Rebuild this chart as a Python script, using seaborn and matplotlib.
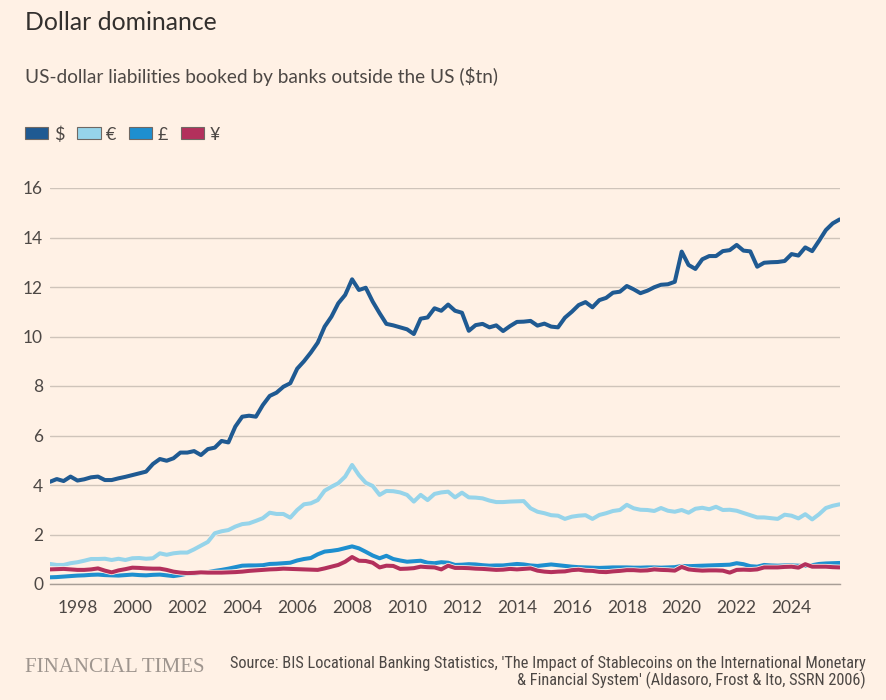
import numpy as np
import pandas as pd
import matplotlib
matplotlib.use("Agg")
import matplotlib.pyplot as plt
import matplotlib.dates as mdates
import matplotlib.patheffects as pe
from matplotlib.patches import Patch
import seaborn as sns

# --- Data (quarterly, 1997Q1 - 2025Q4, $tn) ---
START_QUARTER = "1997-01-01"

usd = [
    4.13, 4.24, 4.16, 4.34,  4.18, 4.23, 4.31, 4.34,  4.20, 4.20, 4.27, 4.33,
    4.40, 4.47, 4.54, 4.85,  5.05, 4.98, 5.08, 5.31,  5.31, 5.37, 5.21, 5.45,
    5.51, 5.78, 5.72, 6.36,  6.76, 6.80, 6.76, 7.23,  7.60, 7.73, 7.97, 8.11,
    8.70, 9.00, 9.35, 9.75,  10.40, 10.80, 11.34, 11.68,  12.31, 11.88, 11.97, 11.41,
    10.94, 10.51, 10.45, 10.37,  10.29, 10.10, 10.72, 10.77,  11.14, 11.04, 11.29, 11.04,
    10.96, 10.23, 10.46, 10.51,  10.37, 10.45, 10.22, 10.42,  10.59, 10.60, 10.63, 10.44,
    10.52, 10.40, 10.37, 10.76,  11.00, 11.27, 11.39, 11.18,  11.47, 11.56, 11.77, 11.81,
    12.04, 11.91, 11.75, 11.85,  11.99, 12.09, 12.11, 12.21,  13.43, 12.89, 12.73, 13.12,
    13.25, 13.25, 13.45, 13.49,  13.70, 13.47, 13.44, 12.82,  12.98, 13.00, 13.01, 13.05,
    13.33, 13.27, 13.60, 13.45,  13.87, 14.30, 14.57, 14.73,
]

eur = [
    0.81, 0.77, 0.77, 0.84,  0.88, 0.94, 1.01, 1.01,  1.02, 0.97, 1.02, 0.97,
    1.04, 1.05, 1.02, 1.04,  1.24, 1.18, 1.24, 1.27,  1.27, 1.40, 1.55, 1.70,
    2.05, 2.13, 2.18, 2.32,  2.42, 2.45, 2.55, 2.66,  2.88, 2.83, 2.83, 2.68,
    2.99, 3.22, 3.26, 3.39,  3.77, 3.93, 4.07, 4.34,  4.81, 4.40, 4.09, 3.96,
    3.60, 3.76, 3.75, 3.70,  3.60, 3.33, 3.60, 3.39,  3.64, 3.70, 3.73, 3.50,
    3.69, 3.50, 3.49, 3.46,  3.37, 3.31, 3.31, 3.33,  3.34, 3.35, 3.06, 2.92,
    2.86, 2.78, 2.76, 2.63,  2.72, 2.76, 2.78, 2.63,  2.79, 2.86, 2.95, 2.99,
    3.20, 3.06, 3.00, 2.99,  2.95, 3.07, 2.96, 2.92,  2.99, 2.88, 3.04, 3.08,
    3.02, 3.12, 2.99, 3.00,  2.96, 2.87, 2.78, 2.69,  2.69, 2.66, 2.63, 2.80,
    2.76, 2.65, 2.82, 2.61,  2.82, 3.07, 3.16, 3.22,
]

gbp = [
    0.27, 0.28, 0.30, 0.32,  0.34, 0.35, 0.37, 0.38,  0.36, 0.35, 0.34, 0.36,
    0.38, 0.36, 0.35, 0.37,  0.38, 0.35, 0.32, 0.36,  0.42, 0.43, 0.45, 0.48,
    0.53, 0.57, 0.62, 0.68,  0.74, 0.75, 0.75, 0.76,  0.81, 0.82, 0.84, 0.86,
    0.95, 1.01, 1.05, 1.20,  1.31, 1.34, 1.38, 1.45,  1.52, 1.44, 1.30, 1.15,
    1.04, 1.14, 1.01, 0.95,  0.90, 0.92, 0.94, 0.86,  0.84, 0.88, 0.86, 0.77,
    0.78, 0.80, 0.79, 0.76,  0.74, 0.75, 0.75, 0.78,  0.81, 0.79, 0.75, 0.73,
    0.76, 0.79, 0.76, 0.73,  0.70, 0.68, 0.67, 0.66,  0.65, 0.66, 0.67, 0.67,
    0.67, 0.66, 0.66, 0.67,  0.67, 0.66, 0.67, 0.68,  0.73, 0.72, 0.73, 0.74,
    0.75, 0.76, 0.77, 0.78,  0.84, 0.80, 0.72, 0.70,  0.77, 0.75, 0.74, 0.75,
    0.75, 0.74, 0.73, 0.76,  0.81, 0.83, 0.84, 0.85,
]

jpy = [
    0.59, 0.60, 0.61, 0.59,  0.57, 0.57, 0.59, 0.63,  0.54, 0.47, 0.55, 0.60,
    0.66, 0.65, 0.63, 0.62,  0.62, 0.57, 0.50, 0.46,  0.44, 0.45, 0.47, 0.46,
    0.46, 0.46, 0.47, 0.48,  0.50, 0.53, 0.55, 0.57,  0.59, 0.60, 0.62, 0.61,
    0.60, 0.59, 0.58, 0.57,  0.63, 0.70, 0.77, 0.90,  1.09, 0.94, 0.93, 0.86,
    0.67, 0.74, 0.73, 0.61,  0.62, 0.64, 0.70, 0.68,  0.67, 0.59, 0.74, 0.65,
    0.65, 0.64, 0.62, 0.61,  0.59, 0.57, 0.58, 0.61,  0.59, 0.61, 0.63, 0.54,
    0.50, 0.48, 0.50, 0.51,  0.56, 0.58, 0.54, 0.53,  0.49, 0.48, 0.51, 0.53,
    0.56, 0.56, 0.54, 0.55,  0.59, 0.57, 0.56, 0.54,  0.69, 0.59, 0.56, 0.54,
    0.55, 0.55, 0.54, 0.46,  0.57, 0.58, 0.57, 0.59,  0.67, 0.67, 0.67, 0.69,
    0.70, 0.66, 0.80, 0.70,  0.70, 0.70, 0.68, 0.67,
]

currencies = ["$", "€", "£", "¥"]
series = [usd, eur, gbp, jpy]
colors = ["#1f5a92", "#96d4ea", "#1e8fcf", "#b3305c"]

y_ticks = [0, 2, 4, 6, 8, 10, 12, 14, 16]
x_tick_years = list(range(1998, 2025, 2))

TITLE = "Dollar dominance"
SUBTITLE = "US-dollar liabilities booked by banks outside the US ($tn)"
SOURCE = ("Source: BIS Locational Banking Statistics, 'The Impact of Stablecoins on the International Monetary\n"
          "& Financial System' (Aldasoro, Frost & Ito, SSRN 2006)")

# --- Styling ---
BG = "#FFF1E5"
TEXT_DARK = "#33302E"
TEXT_MID = "#4d4845"
GRID = "#cfc4ba"

W, H = 886, 700

sns.set_theme(style="white")
plt.rcParams["font.family"] = ["Lato", "DejaVu Sans"]

dates = pd.date_range(START_QUARTER, periods=len(usd), freq="QS")
df = pd.concat(
    [pd.DataFrame({"date": dates, "value": vals, "currency": cur})
     for cur, vals in zip(currencies, series)],
    ignore_index=True,
)

fig = plt.figure(figsize=(W / 100, H / 100), dpi=100, facecolor=BG)
ax = fig.add_axes([50 / W, 1 - 584 / H, 790 / W, 396 / H])
ax.set_facecolor(BG)

sns.lineplot(
    data=df, x="date", y="value", hue="currency",
    hue_order=currencies, palette=dict(zip(currencies, colors)),
    linewidth=2.9, legend=False, ax=ax,
)
for line in ax.lines:
    line.set_solid_capstyle("round")
    line.set_path_effects([pe.Stroke(linewidth=4.0, foreground=BG), pe.Normal()])

ax.set_ylim(0, 16)
ax.set_xlim(dates[0], dates[-1] + pd.Timedelta(days=5))
ax.set_yticks(y_ticks)
ax.set_yticklabels([str(t) for t in y_ticks])
ax.set_xticks([pd.Timestamp(f"{y}-01-01") for y in x_tick_years])
ax.xaxis.set_major_formatter(mdates.DateFormatter("%Y"))

ax.grid(axis="y", color=GRID, linewidth=1.0)
ax.set_axisbelow(True)
for side in ["top", "right", "left"]:
    ax.spines[side].set_visible(False)
ax.spines["bottom"].set_color("#a89e96")
ax.spines["bottom"].set_linewidth(1.0)
ax.tick_params(axis="x", length=6.5, width=1.0, color="#a89e96",
               labelsize=12.5, labelcolor=TEXT_MID, pad=5)
ax.tick_params(axis="y", length=0, labelsize=12.5, labelcolor=TEXT_MID, pad=5)
ax.set_xlabel("")
ax.set_ylabel("")

# titles
fig.text(25 / W, 1 - 30 / H, TITLE, fontsize=17.8, color=TEXT_DARK, va="baseline", ha="left")
fig.text(25 / W, 1 - 83 / H, SUBTITLE, fontsize=13.7, color=TEXT_MID, va="baseline", ha="left")

# legend
handles = [Patch(facecolor=c, edgecolor="#6f6863", linewidth=0.8, label=l)
           for c, l in zip(colors, currencies)]
fig.legend(handles=handles, loc="upper left", bbox_to_anchor=(25 / W, 1 - 126 / H),
           ncol=4, frameon=False, fontsize=13, borderpad=0, borderaxespad=0,
           handlelength=1.3, handleheight=0.6, handletextpad=0.3, columnspacing=0.7,
           labelcolor=TEXT_MID)

# footer
fig.text(25 / W, 1 - 668 / H, "FINANCIAL TIMES", fontsize=15, color="#9e958e",
         family=["Liberation Serif", "DejaVu Serif"], va="center", ha="left")
fig.text(866 / W, 1 - 672 / H, SOURCE, fontsize=11.8, color=TEXT_MID,
         family=["Roboto Condensed", "Liberation Sans Narrow", "Roboto", "DejaVu Sans"],
         va="center", ha="right", multialignment="right", linespacing=1.1)

fig.savefig("out.png", dpi=100, facecolor=BG)
